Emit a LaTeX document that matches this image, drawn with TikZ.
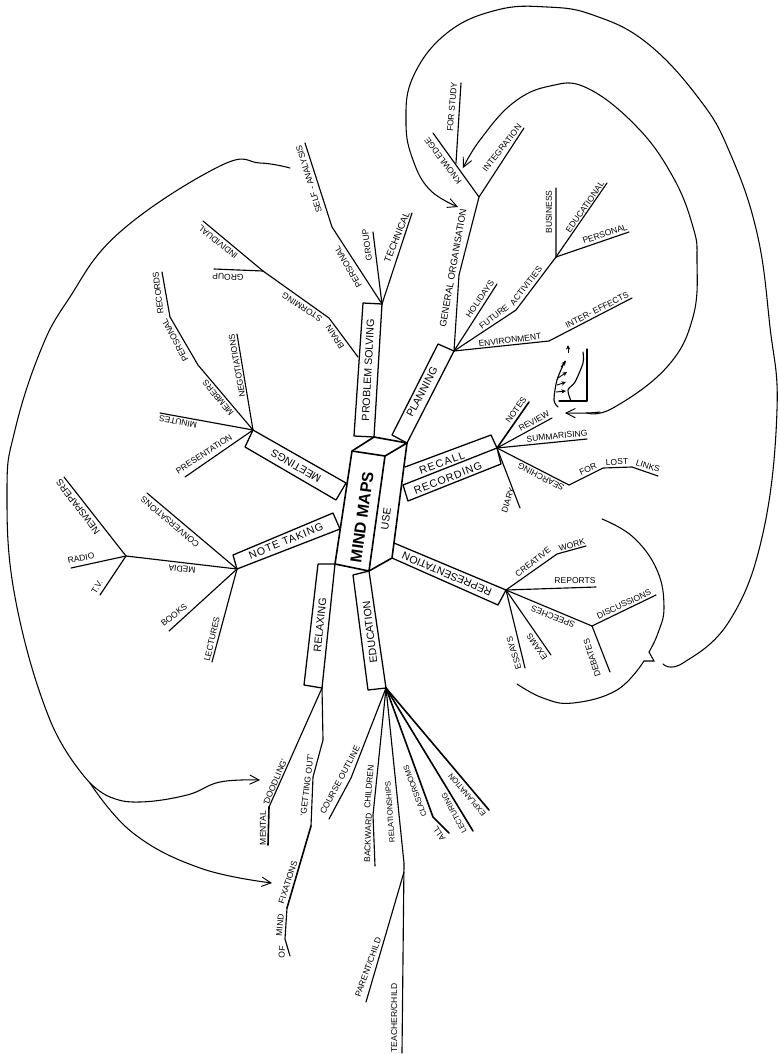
\documentclass[tikz,border=0pt]{standalone}
\usepackage{fontspec}
\setmainfont{Liberation Sans}
\usetikzlibrary{arrows.meta}
\tikzset{
 lab/.style={inner sep=0pt,font=\fontsize{6.4}{7}\selectfont},
 labL/.style={inner sep=0pt,font=\fontsize{7.1}{8}\selectfont},
 labS/.style={inner sep=0pt,font=\fontsize{5.8}{7}\selectfont},
 big/.style={inner sep=0pt,font=\fontsize{8}{9}\selectfont},
 br/.style={line width=0.85pt,line join=round,line cap=round},
 brt/.style={line width=1.2pt,line join=round,line cap=round},
 bx/.style={line width=0.95pt,line join=round},
 body/.style={line width=1.2pt,line join=round},
 arc/.style={line width=0.8pt,line cap=round},
 barb/.style={-{Straight Barb[length=7pt,width=7pt,line width=.7pt]}},
 tiny/.style={line width=.7pt,-{Stealth[length=3.5pt,width=3.2pt]}}
}
\newcommand{\tx}[5][lab]{\node[#1,rotate=#4] (#2) at (#3) {#5};}
\begin{document}
\begin{tikzpicture}[x=0.75pt,y=-0.75pt]
\useasboundingbox (0,0) rectangle (780,1054);
% body
\coordinate (bTL) at (352,451); \coordinate (bTR) at (385,456); \coordinate (bBR) at (369,571);
\coordinate (bBL) at (335,564); \coordinate (bBk) at (374,437); \coordinate (bRT) at (407,443);
\coordinate (bRB) at (392,558);
\draw[body] (bTL)--(bTR)--(bBR)--(bBL)--cycle;
\draw[body] (bTL)--(bBk)--(bRT)--(bTR);
\draw[body] (bRT)--(bRB)--(bBR);
\tx[font=\fontsize{12}{13}\bfseries]{tMind}{362,517}{82}{MIND MAPS}
\tx[big]{tUse}{386,519}{82}{USE}
% problem solving
\coordinate (S) at (382,304); \coordinate (pA) at (363,303); \coordinate (pB) at (354,436);
\draw[bx] (pA)--(S)--(bBk)--(pB)--cycle;
\tx[big]{tProb}{368,370}{87}{PROBLEM SOLVING}
% planning
\coordinate (P) at (454,351); \coordinate (plA) at (438,344); \coordinate (plB) at (392,435);
\draw[bx] (plA)--(P)--(bRT)--(plB)--cycle;
\tx[big]{tPlan}{422,392}{62}{PLANNING}
% recall / recording
\coordinate (R) at (497,448); \coordinate (reA) at (405,467); \coordinate (reB) at (491,435);
\coordinate (reC) at (403,485); \coordinate (reD) at (408,501); \coordinate (reE) at (501,464);
\draw[bx] (reA)--(reB)--(R);
\draw[bx] (reC)--(R)--(reE)--(reD)--cycle;
\tx[big]{tRecall}{442,463}{20}{\addfontfeatures{LetterSpace=12}RECALL}
\tx[big]{tRecord}{448,478}{21}{\addfontfeatures{LetterSpace=8}RECORDING}
% representation
\coordinate (E) at (506,590); \coordinate (rpA) at (394,543); \coordinate (rpB) at (498,605);
\draw[bx] (rpA)--(E)--(rpB)--(bRB);
\tx[big]{tRepr}{447,574}{157}{REPRESENTATION}
% education
\coordinate (D) at (386,688); \coordinate (edA) at (353,575); \coordinate (edB) at (368,690);
\draw[bx] (bBR)--(D)--(edB)--(edA)--cycle;
\tx[big]{tEdu}{370,632}{97}{EDUCATION}
% relaxing
\coordinate (T) at (322,688); \coordinate (rxA) at (318,564); \coordinate (rxB) at (304,685);
\draw[bx] (bBL)--(T)--(rxB)--(rxA)--(bBL);
\tx[big]{tRelax}{320,625}{84}{RELAXING}
% note taking
\coordinate (N) at (237,569); \coordinate (ntA) at (233,555); \coordinate (ntB) at (333,513); \coordinate (ntC) at (340,529);
\draw[bx] (N)--(ntA)--(ntB)--(ntC)--cycle;
\tx[big]{tNote}{286,541}{22}{\addfontfeatures{LetterSpace=8}NOTE TAKING}
% meetings
\coordinate (M) at (253,430); \coordinate (mtA) at (346,483); \coordinate (mtB) at (336,500); \coordinate (mtC) at (245,447);
\draw[bx] (M)--(mtA)--(mtB)--(mtC)--cycle;
\tx[big]{tMeet}{296,466}{150}{MEETINGS}

% planning branches
\coordinate (g1) at (459,275); \coordinate (g2) at (479,197); \coordinate (g3) at (524,128);
\coordinate (g4) at (433,133); \coordinate (g5) at (456,163); \coordinate (g6) at (461,83);
\draw[br] (P)--(g1)--(g2)--(g3); \draw[br] (g2)--(g4); \draw[br] (g5)--(g6);
\tx[labL]{tGen}{453,268}{80}{GENERAL ORGANISATION}
\tx{tInteg}{502,148}{52}{INTEGRATION}
\tx{tKnow}{443,161}{127}{KNOWLEDGE}
\tx{tStudy}{452,107}{85}{FOR STUDY}
\coordinate (h1) at (497,284); \draw[br] (P)--(h1);
\tx{tHol}{480,299}{55}{HOLIDAYS}
\coordinate (f1) at (516,310); \coordinate (f2) at (556,257); \coordinate (f3) at (556,188);
\coordinate (f4) at (607,183); \coordinate (f5) at (629,232);
\draw[br] (P)--(f1)--(f2)--(f3); \draw[br] (f2)--(f4); \draw[br] (f2)--(f5);
\tx{tFut}{494,317}{38}{FUTURE}
\tx{tAct}{526,286}{52}{ACTIVITIES}
\tx{tBus}{549,212}{90}{BUSINESS}
\tx{tEduc}{585,207}{55}{EDUCATIONAL}
\tx{tPers}{605,234}{18}{PERSONAL}
\coordinate (v1) at (549,341); \coordinate (v2) at (632,298);
\draw[br] (P)--(v1)--(v2);
\tx{tEnv}{510,340}{7}{ENVIRONMENT}
\tx{tInter}{597,310}{27}{INTER- EFFECTS}

% recall branches
\coordinate (n1) at (529,402); \coordinate (n2) at (552,418); \coordinate (n3) at (587,439);
\coordinate (n4) at (569,485); \coordinate (n5) at (603,468); \coordinate (n6) at (632,467);
\coordinate (n7) at (658,476); \coordinate (n8) at (520,508);
\draw[brt] (R)--(n1); \draw[br] (R)--(n2); \draw[br] (R)--(n3);
\draw[br] (R)--(n4)--(n5)--(n6)--(n7); \draw[br] (R)--(n8);
\tx{tNotes}{516,410}{55}{NOTES}
\tx{tRev}{534,421}{30}{REVIEW}
\tx{tSum}{557,436}{6}{SUMMARISING}
\tx{tSear}{541,477}{153}{SEARCHING}
\tx{tFor}{588,469}{25}{FOR}
\tx{tLost}{617,462}{2}{LOST}
\tx{tLinks}{648,466}{-17}{LINKS}
\tx{tDiary}{508,500}{72}{DIARY}

% representation branches
\coordinate (c1) at (557,554); \coordinate (c2) at (586,546); \coordinate (c3) at (596,587);
\coordinate (c4) at (592,626); \coordinate (c5) at (656,595); \coordinate (c6) at (610,672);
\coordinate (c7) at (525,668); \coordinate (c8) at (551,655);
\draw[br] (E)--(c1)--(c2); \draw[br] (E)--(c3); \draw[br] (E)--(c4)--(c5); \draw[br] (c4)--(c6);
\draw[br] (E)--(c7); \draw[br] (E)--(c8);
\tx{tCre}{533,562}{38}{CREATIVE}
\tx{tWork}{572,545}{15}{WORK}
\tx{tRep}{575,581}{0}{REPORTS}
\tx{tSpe}{553,617}{158}{SPEECHES}
\tx{tDisc}{624,604}{25}{DISCUSSIONS}
\tx{tDeb}{592,658}{108}{DEBATES}
\tx{tEss}{514,653}{107}{ESSAYS}
\tx{tEx}{537,647}{125}{EXAMS}

% education branches
\coordinate (d1) at (351,778); \coordinate (d2) at (329,819); \coordinate (d3) at (373,815);
\coordinate (d4) at (375,866); \coordinate (d5) at (404,863); \coordinate (d6) at (404,872);
\coordinate (d7) at (366,1002); \coordinate (d8) at (402,1053); \coordinate (d9) at (433,817);
\coordinate (d10) at (449,833); \coordinate (d11) at (473,831); \coordinate (d12) at (489,810);
\draw[br] (D)--(d1)--(d2); \draw[br] (D)--(d3)--(d4); \draw[br] (D)--(d5)--(d8); \draw[br] (d6)--(d7);
\draw[brt] (D)--(d9)--(d10); \draw[brt] (D)--(d11); \draw[brt] (D)--(d12);
\tx{tCou}{340,780}{62}{COURSE OUTLINE}
\tx{tBack}{368,838}{88}{BACKWARD}
\tx{tChil}{369,787}{85}{CHILDREN}
\tx[labS]{tRel}{390,812}{94}{RELATIONSHIPS}
\tx{tPar}{368,967}{70}{PARENT/CHILD}
\tx{tTea}{394,1018}{90}{TEACHER/CHILD}
\tx{tAll}{439,834}{125}{ALL}
\tx[labS]{tCla}{415,791}{110}{CLASSROOMS}
\tx[labS]{tLec}{454,813}{118}{LECTURING}
\tx[labS]{tExp}{467,795}{130}{EXPLANATION}

% relaxing branches
\coordinate (x1) at (269,807); \coordinate (x2) at (268,845); \coordinate (x3) at (323,740);
\coordinate (x4) at (313,777); \coordinate (x5) at (311,826); \coordinate (x6) at (287,908);
\coordinate (x7) at (285,939); \coordinate (x8) at (290,956);
\draw[br] (T)--(x1); \draw[brt] (x1)--(x2);
\draw[br] (T)--(x3)--(x4)--(x5); \draw[brt] (x5)--(x6); \draw[br] (x6)--(x7)--(x8);
\tx{tMen}{263,828}{90}{MENTAL}
\tx{tDoo}{275,782}{67}{`DOODLING'}
\tx{tGet}{307,785}{83}{`GETTING OUT'}
\tx{tOf}{282,952}{85}{OF}
\tx{tMd}{280,925}{85}{MIND}
\tx{tFix}{288,882}{72}{FIXATIONS}

% problem solving branches
\coordinate (s1) at (412,213); \coordinate (s2) at (373,232); \coordinate (s3) at (332,227); \coordinate (s4) at (305,143);
\coordinate (s5) at (358,357); \coordinate (s6) at (329,318); \coordinate (s7) at (263,271); \coordinate (s8) at (203,221); \coordinate (s9) at (214,269);
\draw[br] (S)--(s1); \draw[br] (S)--(s2); \draw[br] (S)--(s3)--(s4);
\draw[br] (s5)--(s6)--(s7)--(s8); \draw[br] (s7)--(s9);
\tx[labL]{tTec}{397,237}{68}{TECHNICAL}
\tx{tGro}{367,245}{98}{GROUP}
\tx{tPe2}{348,267}{120}{PERSONAL}
\tx{tSelf}{309,179}{107}{SELF - ANALYSIS}
\tx{tBra}{335,337}{123}{BRAIN}
\tx{tSto}{302,307}{147}{STORMING}
\tx{tGr2}{228,277}{178}{GROUP}
\tx{tInd}{218,242}{141}{INDIVIDUAL}

% meetings branches
\coordinate (m1) at (198,365); \coordinate (m2) at (170,317); \coordinate (m3) at (162,272);
\coordinate (m4) at (237,334); \coordinate (m5) at (160,413); \coordinate (m6) at (185,477);
\draw[br] (M)--(m1)--(m2)--(m3); \draw[br] (M)--(m4); \draw[br] (M)--(m5); \draw[br] (M)--(m6);
\tx{tRec}{158,293}{97}{RECORDS}
\tx{tPe3}{175,340}{118}{PERSONAL}
\tx{tMem}{218,398}{130}{MEMBERS}
\tx{tNeg}{237,366}{100}{NEGOTIATIONS}
\tx{tMin}{178,422}{169}{MINUTES}
\tx{tPre}{204,454}{33}{PRESENTATION}

% note taking branches
\coordinate (q1) at (147,493); \coordinate (q2) at (126,556); \coordinate (q3) at (64,477);
\coordinate (q4) at (71,568); \coordinate (q5) at (100,595); \coordinate (q6) at (169,631); \coordinate (q7) at (212,662);
\draw[br] (N)--(q1); \draw[br] (N)--(q2)--(q3); \draw[br] (q2)--(q4); \draw[br] (q2)--(q5);
\draw[br] (N)--(q6); \draw[br] (N)--(q7);
\tx{tCon}{170,522}{140}{CONVERSATIONS}
\tx{tMed}{182,569}{173}{MEDIA}
\tx[labL]{tNew}{78,507}{127}{NEWSPAPERS}
\tx{tRad}{81,558}{11}{RADIO}
\tx{tTV}{97,587}{58}{T.V.}
\tx{tBoo}{174,615}{38}{BOOKS}
\tx{tLe2}{212,639}{77}{LECTURES}

% long arcs
\coordinate (aIn) at (463,168); \coordinate (aInEnd) at (565,413);
\draw[arc,barb] plot[smooth,tension=.7] coordinates {(587,413) (613,408) (667,367) (693,317) (697,260) (693,227) (673,177) (637,127) (587,88) (550,86) (513,103) (480,140) (aIn)};
\draw[arc,barb] plot[smooth,tension=.7] coordinates {(600,412) (587,413) (aInEnd)};
\coordinate (aOut) at (458,207); \coordinate (aOutS) at (663,664);
\draw[arc,barb] plot[smooth,tension=.7] coordinates {(aOutS) (683,663) (730,620) (763,533) (777,410) (770,327) (757,233) (730,153) (700,100) (647,43) (593,15) (547,7) (497,10) (447,33) (413,77) (406,123) (413,160) (430,190) (aOut)};
\coordinate (aD1) at (602,519); \coordinate (aD2) at (649,652); \coordinate (aD3) at (654,661); \coordinate (aD4) at (644,661); \coordinate (aD5) at (517,684);
\draw[arc] plot[smooth,tension=.7] coordinates {(aD1) (633,537) (657,570) (664,607) (658,633) (aD2)};
\draw[arc] (aD2)--(aD3)--(aD4);
\draw[arc] plot[smooth,tension=.7] coordinates {(aD4) (617,690) (573,703) (543,698) (aD5)};
\coordinate (aL) at (290,168); \coordinate (aF) at (90,783); \coordinate (aT1) at (260,780); \coordinate (aT2) at (272,883);
\draw[arc] plot[smooth,tension=.7] coordinates {(aL) (260,163) (220,166) (120,232) (68,300) (40,352) (15,430) (7,490) (15,597) (50,720) (aF)};
\draw[arc,barb] plot[smooth,tension=.7] coordinates {(aF) (110,797) (140,802) (187,795) (220,782) (aT1)};
\draw[arc,barb] plot[smooth,tension=.7] coordinates {(aF) (133,833) (200,868) (aT2)};

% small chart
\coordinate (k1) at (587,349); \coordinate (k2) at (587,401); \coordinate (k3) at (559,401);
\draw[br] (k1)--(k2)--(k3);
\draw[br] plot[smooth] coordinates {(583,352) (583,363) (575,382) (568,390) (571,401)};
\draw[br] plot[smooth] coordinates {(558,407) (554,400) (557,380) (565,361)};
\coordinate (k4) at (566,361); \coordinate (k5) at (566,391); \coordinate (k6) at (566,382); \coordinate (k7) at (567,372);
\coordinate (k8) at (568,353); \coordinate (k9) at (568,345);
\draw[tiny] (561,367)--(k4);
\draw[tiny] (556,392)--(k5);
\draw[tiny] (557,385)--(k6);
\draw[tiny] (558,378)--(k7);
\draw[tiny] (k8)--(k9);
\end{tikzpicture}
\end{document}
